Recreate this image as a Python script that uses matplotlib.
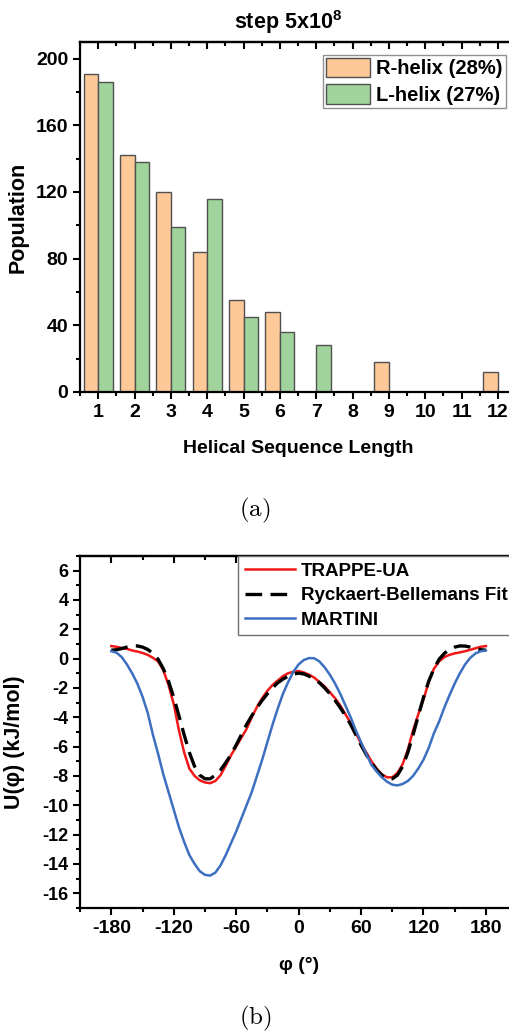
import numpy as np
import matplotlib
matplotlib.use('Agg')
import matplotlib.pyplot as plt
from matplotlib.ticker import MultipleLocator

plt.rcParams['font.family'] = ['Liberation Sans', 'DejaVu Sans']
plt.rcParams['font.weight'] = 'bold'
plt.rcParams['axes.unicode_minus'] = False
plt.rcParams['mathtext.fontset'] = 'custom'
plt.rcParams['mathtext.rm'] = 'Liberation Sans:bold'
plt.rcParams['mathtext.bf'] = 'Liberation Sans:bold'

# (a) helical sequence length histogram
lengths = [1, 2, 3, 4, 5, 6, 7, 8, 9, 10, 11, 12]
r_helix = [191, 142, 120, 84, 55, 48, 0, 0, 18, 0, 0, 12]
l_helix = [186, 138, 99, 116, 45, 36, 28, 0, 0, 0, 0, 0]

# (b) dihedral potential, every 5 degrees
phi = list(range(-180, 185, 5))
trappe = [0.85, 0.80, 0.72, 0.66, 0.55, 0.48, 0.38, 0.25, 0.05, -0.2,
          -0.8, -1.8, -3.1, -4.9, -6.4, -7.5, -8.0, -8.3, -8.45, -8.5,
          -8.35, -7.95, -7.3, -6.6, -6.0, -5.4, -4.8, -4.0, -3.3, -2.7,
          -2.2, -1.8, -1.5, -1.2, -1.0, -0.9, -0.85, -0.95, -1.1, -1.3,
          -1.6, -1.9, -2.3, -2.7, -3.2, -3.8, -4.4, -5.1, -5.8, -6.4,
          -7.0, -7.5, -7.9, -8.1, -8.1, -7.8, -7.2, -6.2, -4.9, -3.8,
          -2.8, -1.6, -0.7, -0.2, 0.1, 0.25, 0.35, 0.42, 0.5, 0.6,
          0.7, 0.8, 0.85]
rb_fit = [0.57, 0.6, 0.68, 0.78, 0.85, 0.86, 0.78, 0.62, 0.35, -0.05,
          -0.7, -1.55, -2.65, -3.9, -5.2, -6.4, -7.35, -7.95, -8.2, -8.2,
          -7.95, -7.6, -7.1, -6.55, -5.9, -5.2, -4.5, -3.9, -3.35, -2.85,
          -2.4, -2.0, -1.65, -1.4, -1.2, -1.05, -1.0, -1.05, -1.2, -1.4,
          -1.65, -2.0, -2.4, -2.85, -3.35, -3.9, -4.5, -5.2, -5.9, -6.55,
          -7.1, -7.6, -7.95, -8.2, -8.2, -7.95, -7.35, -6.4, -5.2, -3.9,
          -2.65, -1.55, -0.7, -0.05, 0.35, 0.62, 0.78, 0.86, 0.85, 0.78,
          0.68, 0.6, 0.57]
martini = [0.5, 0.4, 0.1, -0.4, -1.0, -1.7, -2.6, -3.7, -5.2, -6.5,
           -7.9, -9.1, -10.3, -11.5, -12.5, -13.4, -14.0, -14.5, -14.75, -14.8,
           -14.6, -14.1, -13.4, -12.6, -11.8, -10.9, -10.0, -9.1, -8.0, -6.9,
           -5.7, -4.5, -3.4, -2.4, -1.6, -0.9, -0.4, -0.1, 0.03, 0.02,
           -0.2, -0.6, -1.1, -1.7, -2.4, -3.2, -4.0, -4.9, -5.7, -6.5,
           -7.25, -7.7, -8.1, -8.4, -8.6, -8.65, -8.55, -8.35, -8.0, -7.5,
           -6.9, -6.1, -5.1, -4.3, -3.35, -2.5, -1.7, -1.0, -0.4, 0.05,
           0.35, 0.5, 0.55]

fig = plt.figure(figsize=(5.1, 10.34), dpi=100)
ax1 = fig.add_axes([0.157, 0.621, 0.855, 0.3385])
ax2 = fig.add_axes([0.157, 0.122, 0.857, 0.3404])

x = np.array(lengths)
ax1.bar(x - 0.2, r_helix, width=0.4, color='#FDC998', edgecolor='#505050',
        linewidth=1.0, label='R-helix (28%)')
ax1.bar(x + 0.2, l_helix, width=0.4, color='#A0D49C', edgecolor='#505050',
        linewidth=1.0, label='L-helix (27%)')
ax1.set_xlim(0.5, 12.5)
ax1.set_ylim(0, 210)
ax1.xaxis.set_major_locator(MultipleLocator(1))
ax1.xaxis.set_minor_locator(MultipleLocator(0.5))
ax1.yaxis.set_major_locator(MultipleLocator(40))
ax1.yaxis.set_minor_locator(MultipleLocator(20))
ax1.set_xlabel('Helical Sequence Length', fontsize=14, fontweight='bold')
ax1.set_ylabel('Population', fontsize=15.5, fontweight='bold')
ax1.xaxis.set_label_coords(0.5, -0.137)
ax1.yaxis.set_label_coords(-0.119, 0.5)
ax1.text(0.477, 1.057, r'step 5x10$^{8}$', transform=ax1.transAxes,
         ha='center', va='center', fontsize=15.5, fontweight='bold')
leg1 = ax1.legend(loc='upper left', bbox_to_anchor=(0.557, 0.963),
                  fontsize=14.5, handlelength=2.2, handleheight=1.1,
                  labelspacing=0.3, handletextpad=0.3, borderpad=0.15,
                  borderaxespad=0, fancybox=False, framealpha=1)
leg1.get_frame().set_edgecolor('#909090')
leg1.get_frame().set_linewidth(1.0)

ax2.plot(phi, trappe, color='#F01818', lw=1.8, label='TRAPPE-UA')
ax2.plot(phi, rb_fit, color='black', lw=2.4, dashes=(5, 2.5),
         label='Ryckaert-Bellemans Fit')
ax2.plot(phi, martini, color='#3D6FC0', lw=1.8, label='MARTINI')
ax2.set_xlim(-210, 210)
ax2.set_ylim(-17, 7)
ax2.xaxis.set_major_locator(MultipleLocator(60))
ax2.xaxis.set_minor_locator(MultipleLocator(30))
ax2.yaxis.set_major_locator(MultipleLocator(2))
ax2.yaxis.set_minor_locator(MultipleLocator(1))
ax2.set_xticks([-180, -120, -60, 0, 60, 120, 180])
ax2.set_xlabel('φ (°)', fontsize=14, fontweight='bold')
ax2.set_ylabel('U(φ) (kJ/mol)', fontsize=15.5, fontweight='bold')
ax2.xaxis.set_label_coords(0.5, -0.139)
ax2.yaxis.set_label_coords(-0.125, 0.47)
leg2 = ax2.legend(loc='upper left', bbox_to_anchor=(0.3616, 1.0),
                  fontsize=13.5, handlelength=2.7, labelspacing=0.4,
                  handletextpad=0.3, borderpad=0.35, borderaxespad=0,
                  fancybox=False, framealpha=1)
leg2.get_frame().set_edgecolor('#707070')
leg2.get_frame().set_linewidth(1.0)

for ax in (ax1, ax2):
    for s in ax.spines.values():
        s.set_linewidth(1.6)
    ax.tick_params(which='both', labelsize=14, width=1.5, direction='out')
    ax.tick_params(which='major', length=5)
    ax.tick_params(which='minor', length=3)
    for lab in ax.get_xticklabels() + ax.get_yticklabels():
        lab.set_fontweight('bold')
    # mirrored ticks on top and right point inward
    top = ax.secondary_xaxis('top')
    top.xaxis.set_major_locator(ax.xaxis.get_major_locator())
    top.xaxis.set_minor_locator(ax.xaxis.get_minor_locator())
    right = ax.secondary_yaxis('right')
    right.yaxis.set_major_locator(ax.yaxis.get_major_locator())
    right.yaxis.set_minor_locator(ax.yaxis.get_minor_locator())
    for sec in (top, right):
        sec.tick_params(which='both', direction='in', width=1.5,
                        labeltop=False, labelright=False)
        sec.tick_params(which='major', length=5)
        sec.tick_params(which='minor', length=3)
        for s in sec.spines.values():
            s.set_linewidth(1.6)
ax2.tick_params(axis='y', labelsize=13)

fig.text(0.5, 1 - 510 / 1034, r'$\mathrm{(a)}$', ha='center', va='center',
         fontsize=18, math_fontfamily='cm')
fig.text(0.5, 1 - 1018 / 1034, r'$\mathrm{(b)}$', ha='center', va='center',
         fontsize=18, math_fontfamily='cm')

fig.savefig('out.png', dpi=100)
